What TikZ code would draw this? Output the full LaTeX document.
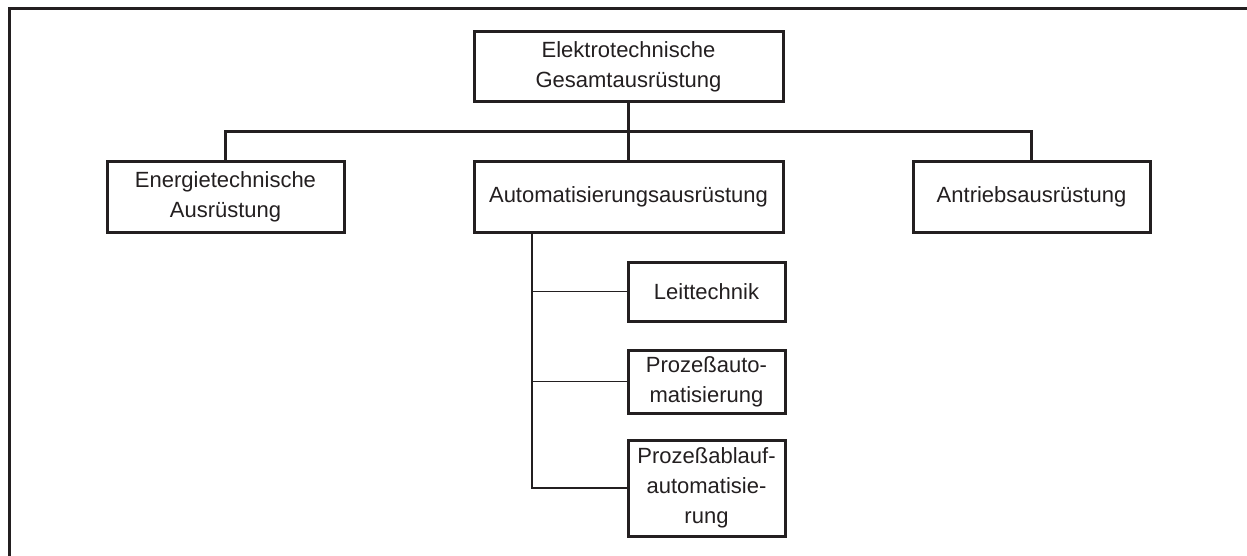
\documentclass[tikz,border=0pt]{standalone}
\usepackage{fontspec}
\setmainfont{Liberation Sans}
\definecolor{inkgrey}{HTML}{231F20}
\tikzset{
  unitbox/.style={draw, line width=1.5pt, align=center, inner sep=0pt,
    font=\fontsize{11}{15}\selectfont},
  busline/.style={line width=1.5pt},
  twigline/.style={line width=0.65pt}
}
\begin{document}
\begin{tikzpicture}[x=0.5pt,y=-0.5pt,color=inkgrey]
  \useasboundingbox (0,0) rectangle (1247,556);
    \draw[line width=1.5pt] (1247,9) -- (9,9) -- (9,556);

  \node[unitbox, minimum width=154.5pt, minimum height=35pt] (gesamt) at (628.5,67) {Elektrotechnische\\Gesamtausrüstung};
  \node[unitbox, minimum width=118.5pt, minimum height=35.5pt] (energie) at (225.5,196.5) {Energietechnische\\Ausrüstung};
  \node[unitbox, minimum width=154.5pt, minimum height=35.5pt] (automat) at (628.5,196.5) {Automatisierungsausrüstung};
  \node[unitbox, minimum width=118.5pt, minimum height=35.5pt] (antrieb) at (1031.5,196.5) {Antriebsausrüstung};

  \node[unitbox, minimum width=78.5pt, minimum height=29.5pt] (leit) at (706.5,291.5) {Leittechnik};
  \node[unitbox, minimum width=78.5pt, minimum height=31.5pt] (pauto) at (706.5,381.5) {Prozeßauto-\\matisierung};
  \node[unitbox, minimum width=78.5pt, minimum height=48pt] (pablauf) at (706.5,488) {Prozeßablauf-\\automatisie-\\rung};

  \coordinate (bus) at (628.5,132);
  \coordinate (stem) at (532,232);

    \draw[busline] (gesamt.south) -- (automat.north);
    \draw[busline] (energie.north) |- (bus) -| (antrieb.north);

    \draw[twigline] (stem) |- (pablauf.west);
    \draw[twigline] (stem |- leit.west) -- (leit.west);
    \draw[twigline] (stem |- pauto.west) -- (pauto.west);

\end{tikzpicture}
\end{document}
